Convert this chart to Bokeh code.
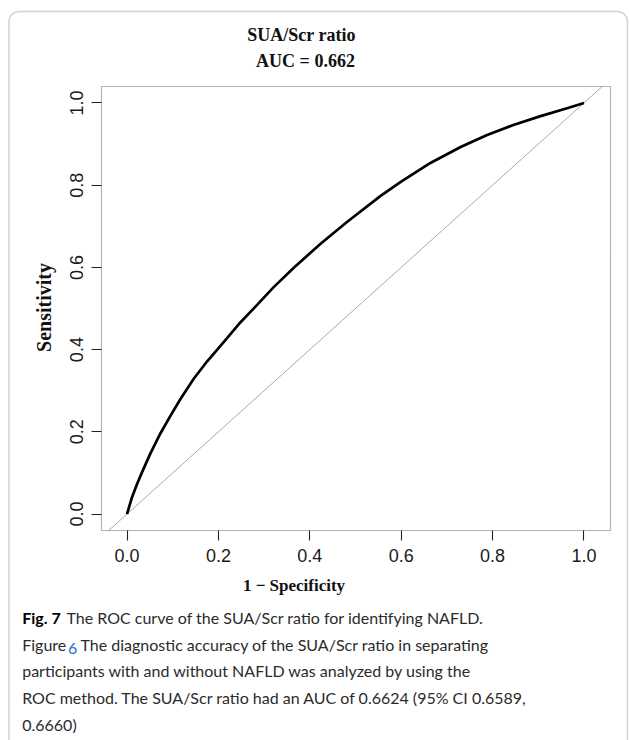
from bokeh.plotting import figure
from bokeh.models import Range1d, Label, BoxAnnotation, FixedTicker, LinearAxis
from bokeh.embed import file_html
from bokeh.resources import INLINE
import math

# ---- data ----
fpr = [0.0, 0.011, 0.022, 0.033, 0.051, 0.073, 0.095, 0.117, 0.146, 0.175,
       0.219, 0.248, 0.278, 0.321, 0.365, 0.423, 0.482, 0.555, 0.599, 0.664,
       0.730, 0.788, 0.847, 0.905, 0.963, 1.0]
tpr = [0.0, 0.041, 0.073, 0.102, 0.147, 0.196, 0.239, 0.280, 0.329, 0.371,
       0.428, 0.466, 0.501, 0.552, 0.599, 0.657, 0.711, 0.774, 0.808, 0.854,
       0.893, 0.922, 0.947, 0.968, 0.987, 1.0]
ticks = [0.0, 0.2, 0.4, 0.6, 0.8, 1.0]
tick_labels = ["0.0", "0.2", "0.4", "0.6", "0.8", "1.0"]

title_lines = ["SUA/Scr ratio", "AUC = 0.662"]
x_title = "1 \u2212 Specificity"
y_title = "Sensitivity"
caption_bold = "Fig. 7"
caption_l1 = "The ROC curve of the SUA/Scr ratio for identifying NAFLD."
caption_l2a = "Figure"
caption_l2b = "6"
caption_l2c = "The diagnostic accuracy of the SUA/Scr ratio in separating"
caption_rest = ["participants with and without NAFLD was analyzed by using the",
                "ROC method. The SUA/Scr ratio had an AUC of 0.6624 (95% CI 0.6589,",
                "0.6660)"]

# ---- layout (pixel box of the plotting area on the page) ----
W, H = 629, 740
PL, PR, PT, PB = 101, 610, 86, 530
X0, X1 = -0.0558, 1.058
Y0, Y1 = -0.04, 1.04


def dx(px):  # page x -> data x
    return X0 + (px - PL) / (PR - PL) * (X1 - X0)


def dy(py):  # page y -> data y
    return Y1 - (py - PT) / (PB - PT) * (Y1 - Y0)


p = figure(width=W, height=H, output_backend="svg", toolbar_location=None,
           x_range=Range1d(dx(0), dx(W)), y_range=Range1d(dy(H), dy(0)),
           x_axis_location=None, y_axis_location=None,
           min_border=0)
p.grid.visible = False
p.outline_line_color = None
p.background_fill_color = "white"
p.border_fill_color = "white"

xa = LinearAxis(fixed_location=Y0)
ya = LinearAxis(fixed_location=X0)
p.add_layout(xa, "below")
p.add_layout(ya, "left")
for ax in (xa, ya):
    ax.ticker = FixedTicker(ticks=ticks)
    ax.major_label_overrides = {t: l for t, l in zip(ticks, tick_labels)}
    ax.axis_line_color = None
    ax.major_tick_in = 0
    ax.major_tick_out = 10
    ax.major_tick_line_color = "#222222"
    ax.major_tick_line_width = 1.1
    ax.minor_tick_line_color = None
    ax.major_label_text_font = "Liberation Sans"
    ax.major_label_text_font_size = "18px"
    ax.major_label_text_color = "#1a1a1a"
xa.major_label_standoff = 8
ya.major_label_standoff = 8
ya.major_label_orientation = "vertical"

# plot box
p.add_layout(BoxAnnotation(left=X0, right=X1, bottom=Y0, top=Y1, fill_color=None,
                           fill_alpha=0, line_color="black", line_width=1.2))

# diagonal reference line, limited to the plot box
lo, hi = max(X0, Y0), min(X1, Y1)
p.segment(x0=[lo], y0=[lo], x1=[hi], y1=[hi], line_color="#aaaaaa", line_width=1)
# ROC curve
p.line(fpr, tpr, line_color="black", line_width=2.7, line_join="round")

serif = "Liberation Serif"
SOFF = -7.5  # vertical correction for serif labels
p.add_layout(Label(x=dx(301), y=dy(41.7 + SOFF), text=title_lines[0], text_font=serif,
                   text_font_style="bold", text_font_size="18px", text_align="center",
                   text_baseline="alphabetic", text_color="#111111"))
p.add_layout(Label(x=dx(305), y=dy(68 + SOFF), text=title_lines[1], text_font=serif,
                   text_font_style="bold", text_font_size="18px", text_align="center",
                   text_baseline="alphabetic", text_color="#111111"))
p.add_layout(Label(x=dx(293.5), y=dy(592 + SOFF), text=x_title, text_font=serif,
                   text_font_style="bold", text_font_size="17px", text_align="center",
                   text_baseline="alphabetic", text_color="#111111"))
p.add_layout(Label(x=dx(43.5), y=dy(307), text=y_title, text_font=serif,
                   text_font_style="bold", text_font_size="20px", text_align="center",
                   text_baseline="middle", angle=math.pi / 2, text_color="#111111"))

cap_font = "Lato"
cap_size = "16px"
cap_col = "#2b2b2b"
COFF = 3.0  # vertical correction for caption labels
base = [623.3, 650, 676.7, 703.3, 730]
p.add_layout(Label(x=dx(21.7), y=dy(base[0] + COFF), text=caption_bold, text_font=cap_font,
                   text_font_style="bold", text_font_size=cap_size, text_color="black"))
p.add_layout(Label(x=dx(66), y=dy(base[0] + COFF), text=caption_l1, text_font=cap_font,
                   text_font_size=cap_size, text_color=cap_col))
p.add_layout(Label(x=dx(21.7), y=dy(base[1] + COFF), text=caption_l2a, text_font=cap_font,
                   text_font_size=cap_size, text_color=cap_col))
p.add_layout(Label(x=dx(67.5), y=dy(base[1] + COFF), text=caption_l2b, text_font=cap_font,
                   text_font_size=cap_size, text_color="#1f6fd1"))
p.add_layout(Label(x=dx(80), y=dy(base[1] + COFF), text=caption_l2c, text_font=cap_font,
                   text_font_size=cap_size, text_color=cap_col))
for i, line in enumerate(caption_rest):
    p.add_layout(Label(x=dx(21.7), y=dy(base[2 + i] + COFF), text=line, text_font=cap_font,
                       text_font_size=cap_size, text_color=cap_col))

# card border
p.add_layout(BoxAnnotation(left=dx(8.5), right=dx(627), top=dy(11), bottom=dy(760),
                           fill_color=None, fill_alpha=0, line_color="#6e6e6e",
                           line_width=1.5, border_radius=10))

open("out.html", "w").write(file_html(p, INLINE))
